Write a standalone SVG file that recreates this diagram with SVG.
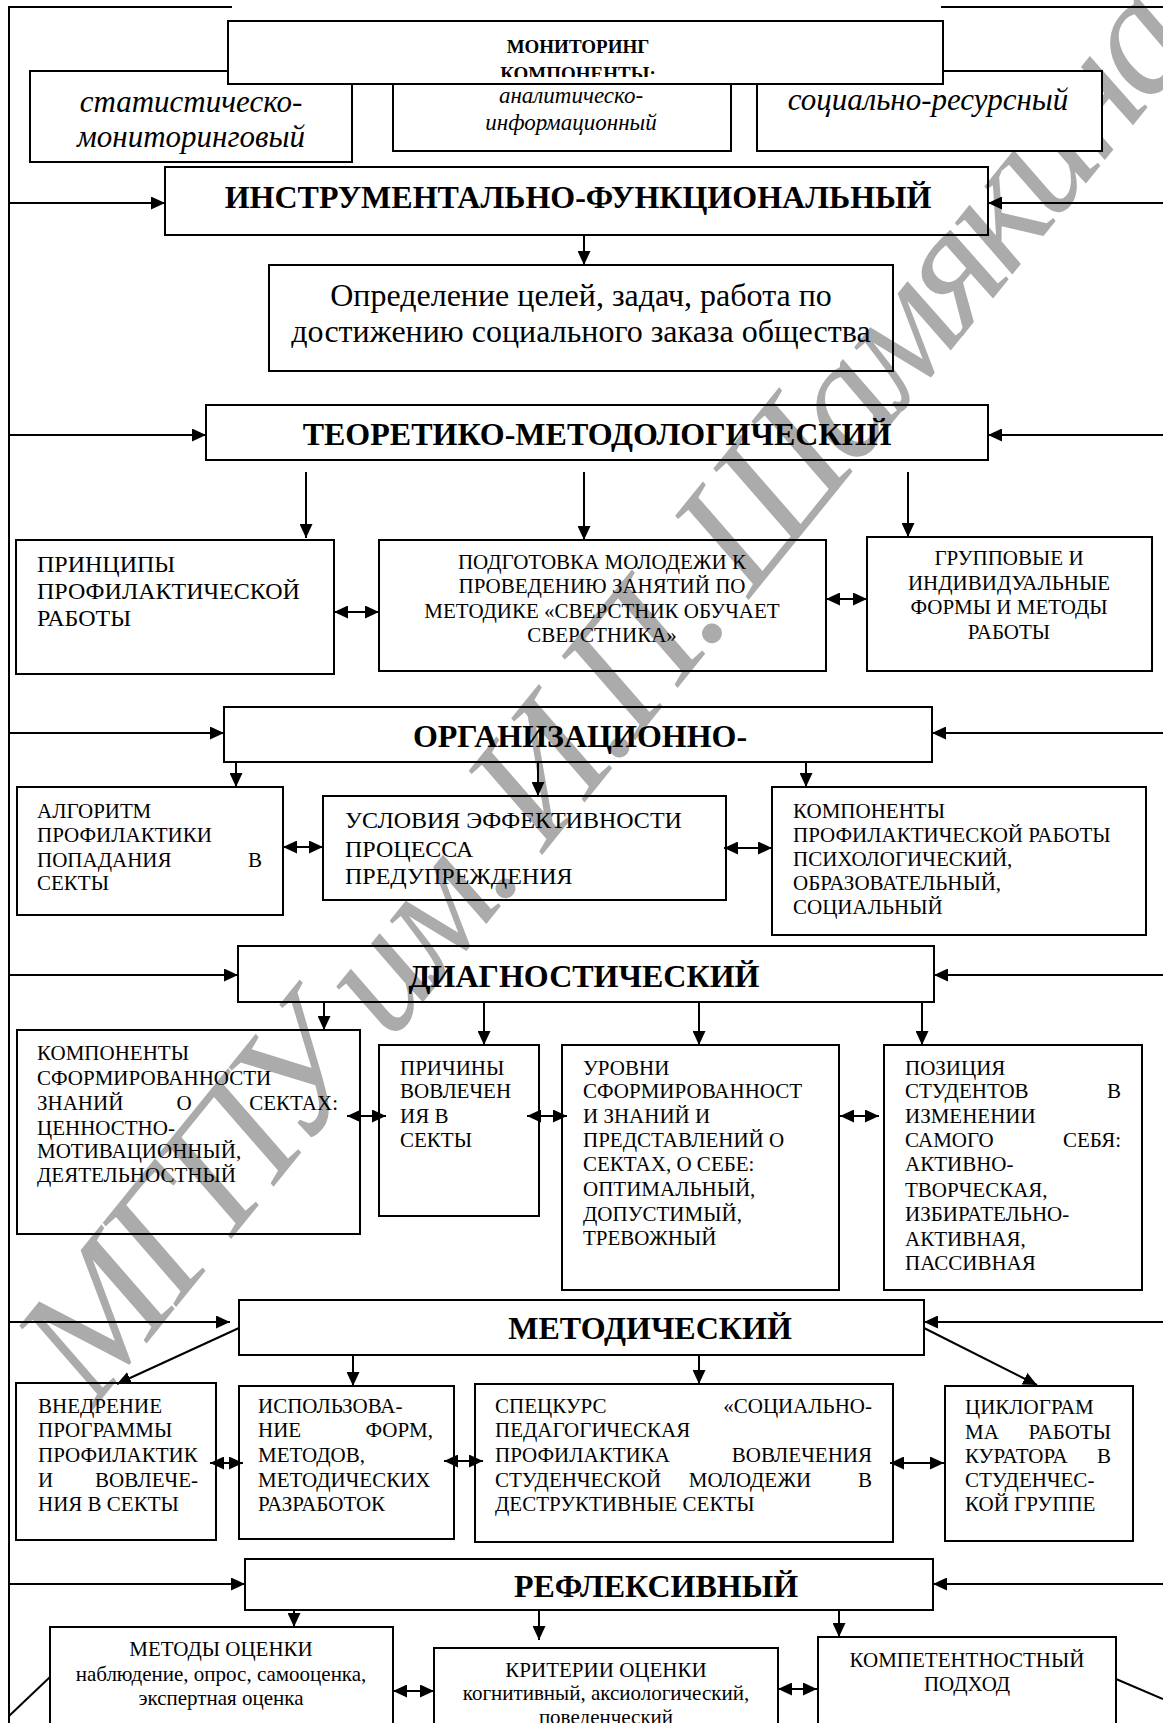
<svg xmlns="http://www.w3.org/2000/svg" width="1163" height="1723" viewBox="0 0 1163 1723">
<style>
text{font-family:"Liberation Serif","Times New Roman",serif;fill:#000}
.t{font-size:21px}
.t24{font-size:24px}
.c{text-anchor:middle}
.e{text-anchor:end}
.h{font-size:32px;font-weight:bold;text-anchor:middle}
.m{font-size:19px;font-weight:bold;text-anchor:middle}
.i31{font-size:31px;font-style:italic;text-anchor:middle}
.i23{font-size:23px;font-style:italic;text-anchor:middle}
.box{fill:none;stroke:#000;stroke-width:2}
.wbox{fill:#fff;stroke:#000;stroke-width:2}
.ln{fill:none;stroke:#000;stroke-width:2}
.ar{fill:none;stroke:#000;stroke-width:2;marker-end:url(#ah)}
.da{fill:none;stroke:#000;stroke-width:2;marker-start:url(#ah);marker-end:url(#ah)}
.wm{font-size:168px;font-style:italic;fill:#ababab;text-anchor:middle}
</style>
<defs>
<marker id="ah" viewBox="0 0 10 10" refX="10" refY="5" markerWidth="14" markerHeight="13" markerUnits="userSpaceOnUse" preserveAspectRatio="none" orient="auto-start-reverse">
<path d="M0,0 L10,5 L0,10 z" fill="#000"/>
</marker>
<clipPath id="monclip"><rect x="228" y="21" width="715" height="56"/></clipPath>
</defs>
<rect x="0" y="0" width="1163" height="1723" fill="#fff"/>
<g id="watermark">
<text class="wm" x="605" y="745" transform="rotate(-51 605 690)" textLength="1760" lengthAdjust="spacing">МГПУ им. И.П. Шамякина</text>
</g>
<g id="connectors">
<path class="ln" d="M232,7 H9 V1723"/>
<line class="ln" x1="941" y1="7" x2="1163" y2="7"/>
<line class="ar" x1="9" y1="203" x2="165" y2="203"/>
<line class="ar" x1="1163" y1="203" x2="988" y2="203"/>
<line class="ar" x1="584" y1="235" x2="584" y2="265"/>
<line class="ar" x1="9" y1="435" x2="206" y2="435"/>
<line class="ar" x1="1163" y1="435" x2="988" y2="435"/>
<line class="ar" x1="306" y1="472" x2="306" y2="538"/>
<line class="ar" x1="584" y1="472" x2="584" y2="540"/>
<line class="ar" x1="908" y1="472" x2="908" y2="537"/>
<line class="da" x1="334" y1="612" x2="379" y2="612"/>
<line class="da" x1="826" y1="599" x2="867" y2="599"/>
<line class="ar" x1="9" y1="733" x2="224" y2="733"/>
<line class="ar" x1="1163" y1="733" x2="932" y2="733"/>
<line class="ar" x1="236" y1="762" x2="236" y2="787"/>
<line class="ar" x1="538" y1="762" x2="538" y2="796"/>
<line class="ar" x1="806" y1="762" x2="806" y2="787"/>
<line class="da" x1="283" y1="847" x2="323" y2="847"/>
<line class="da" x1="724" y1="848" x2="772" y2="848"/>
<line class="ar" x1="9" y1="975" x2="238" y2="975"/>
<line class="ar" x1="1163" y1="975" x2="934" y2="975"/>
<line class="ar" x1="324" y1="1002" x2="324" y2="1030"/>
<line class="ar" x1="484" y1="1002" x2="484" y2="1045"/>
<line class="ar" x1="699" y1="1002" x2="699" y2="1045"/>
<line class="ar" x1="922" y1="1002" x2="922" y2="1045"/>
<line class="da" x1="347" y1="1116" x2="386" y2="1116"/>
<line class="da" x1="527" y1="1116" x2="567" y2="1116"/>
<line class="da" x1="840" y1="1116" x2="879" y2="1116"/>
<line class="ar" x1="9" y1="1322" x2="230" y2="1322"/>
<line class="ar" x1="1163" y1="1322" x2="924" y2="1322"/>
<line class="ar" x1="239" y1="1328" x2="117" y2="1384"/>
<line class="ar" x1="353" y1="1355" x2="353" y2="1386"/>
<line class="ar" x1="699" y1="1355" x2="699" y2="1384"/>
<line class="ar" x1="924" y1="1328" x2="1037" y2="1385"/>
<line class="da" x1="210" y1="1463" x2="243" y2="1463"/>
<line class="da" x1="444" y1="1461" x2="483" y2="1461"/>
<line class="da" x1="890" y1="1463" x2="944" y2="1463"/>
<line class="ar" x1="9" y1="1584" x2="245" y2="1584"/>
<line class="ar" x1="1163" y1="1584" x2="933" y2="1584"/>
<line class="ar" x1="294" y1="1610" x2="294" y2="1627"/>
<line class="ar" x1="539" y1="1610" x2="539" y2="1640"/>
<line class="ar" x1="839" y1="1610" x2="839" y2="1637"/>
<line class="da" x1="393" y1="1691" x2="434" y2="1691"/>
<line class="da" x1="778" y1="1689" x2="817" y2="1689"/>
<line class="ln" x1="9" y1="1716" x2="50" y2="1677"/>
<line class="ln" x1="1116" y1="1679" x2="1163" y2="1699"/>
</g>
<g id="n-stat">
<rect class="wbox" x="30" y="71" width="322" height="91"/>
<text class="i31" x="191" y="112">статистическо-</text>
<text class="i31" x="191" y="147">мониторинговый</text>
</g>
<g id="n-anal">
<rect class="wbox" x="393" y="78" width="338" height="73"/>
<text class="i23" x="571" y="103">аналитическо-</text>
<text class="i23" x="571" y="130">информационный</text>
</g>
<g id="n-soc">
<rect class="wbox" x="757" y="71" width="345" height="80"/>
<text class="i31" x="928" y="110">социально-ресурсный</text>
</g>
<g id="n-monitoring">
<rect class="wbox" x="228" y="21" width="715" height="63"/>
<g clip-path="url(#monclip)">
<text class="m" x="578" y="53">МОНИТОРИНГ</text>
<text class="m" x="578" y="80">КОМПОНЕНТЫ:</text>
</g>
</g>
<g id="n-instr">
<rect class="box" x="165" y="167" width="823" height="68"/>
<text class="h" x="578" y="208">ИНСТРУМЕНТАЛЬНО-ФУНКЦИОНАЛЬНЫЙ</text>
</g>
<g id="n-opred">
<rect class="box" x="269" y="265" width="624" height="106"/>
<text class="c" style="font-size:32px" x="581" y="306">Определение целей, задач, работа по</text>
<text class="c" style="font-size:32px" x="581" y="342">достижению социального заказа общества</text>
</g>
<g id="n-teor">
<rect class="box" x="206" y="405" width="782" height="55"/>
<text class="h" x="597" y="445">ТЕОРЕТИКО-МЕТОДОЛОГИЧЕСКИЙ</text>
</g>
<g id="n-princ">
<rect class="box" x="16" y="540" width="318" height="134"/>
<text class="t24" x="37" y="572">ПРИНЦИПЫ</text>
<text class="t24" x="37" y="599">ПРОФИЛАКТИЧЕСКОЙ</text>
<text class="t24" x="37" y="626">РАБОТЫ</text>
</g>
<g id="n-podg">
<rect class="box" x="379" y="540" width="447" height="131"/>
<text class="t c" x="602" y="569">ПОДГОТОВКА МОЛОДЕЖИ К</text>
<text class="t c" x="602" y="593">ПРОВЕДЕНИЮ ЗАНЯТИЙ ПО</text>
<text class="t c" x="602" y="618">МЕТОДИКЕ «СВЕРСТНИК ОБУЧАЕТ</text>
<text class="t c" x="602" y="642">СВЕРСТНИКА»</text>
</g>
<g id="n-grup">
<rect class="box" x="867" y="537" width="285" height="134"/>
<text class="t c" x="1009" y="565">ГРУППОВЫЕ И</text>
<text class="t c" x="1009" y="590">ИНДИВИДУАЛЬНЫЕ</text>
<text class="t c" x="1009" y="614">ФОРМЫ И МЕТОДЫ</text>
<text class="t c" x="1009" y="639">РАБОТЫ</text>
</g>
<g id="n-org">
<rect class="box" x="224" y="707" width="708" height="55"/>
<text class="h" x="580" y="747">ОРГАНИЗАЦИОННО-</text>
</g>
<g id="n-alg">
<rect class="box" x="17" y="787" width="266" height="128"/>
<text class="t" x="37" y="818">АЛГОРИТМ</text>
<text class="t" x="37" y="842">ПРОФИЛАКТИКИ</text>
<text class="t" x="37" y="867">ПОПАДАНИЯ</text>
<text class="t e" x="262" y="867">В</text>
<text class="t" x="37" y="890">СЕКТЫ</text>
</g>
<g id="n-usl">
<rect class="box" x="323" y="796" width="403" height="104"/>
<text class="t24" x="345" y="828">УСЛОВИЯ ЭФФЕКТИВНОСТИ</text>
<text class="t24" x="345" y="857">ПРОЦЕССА</text>
<text class="t24" x="345" y="884">ПРЕДУПРЕЖДЕНИЯ</text>
</g>
<g id="n-comp1">
<rect class="box" x="772" y="787" width="374" height="148"/>
<text class="t" x="793" y="818">КОМПОНЕНТЫ</text>
<text class="t" x="793" y="842">ПРОФИЛАКТИЧЕСКОЙ РАБОТЫ</text>
<text class="t" x="793" y="866">ПСИХОЛОГИЧЕСКИЙ,</text>
<text class="t" x="793" y="890">ОБРАЗОВАТЕЛЬНЫЙ,</text>
<text class="t" x="793" y="914">СОЦИАЛЬНЫЙ</text>
</g>
<g id="n-diag">
<rect class="box" x="238" y="946" width="696" height="56"/>
<text class="h" x="584" y="987">ДИАГНОСТИЧЕСКИЙ</text>
</g>
<g id="n-comp2">
<rect class="box" x="17" y="1030" width="343" height="204"/>
<text class="t" x="37" y="1060">КОМПОНЕНТЫ</text>
<text class="t" x="37" y="1085">СФОРМИРОВАННОСТИ</text>
<text class="t" x="37" y="1110">ЗНАНИЙ</text>
<text class="t c" x="184" y="1110">О</text>
<text class="t e" x="338" y="1110">СЕКТАХ:</text>
<text class="t" x="37" y="1135">ЦЕННОСТНО-</text>
<text class="t" x="37" y="1158">МОТИВАЦИОННЫЙ,</text>
<text class="t" x="37" y="1182">ДЕЯТЕЛЬНОСТНЫЙ</text>
</g>
<g id="n-prich">
<rect class="box" x="379" y="1045" width="160" height="171"/>
<text class="t" x="400" y="1075">ПРИЧИНЫ</text>
<text class="t" x="400" y="1098">ВОВЛЕЧЕН</text>
<text class="t" x="400" y="1123">ИЯ В</text>
<text class="t" x="400" y="1147">СЕКТЫ</text>
</g>
<g id="n-urov">
<rect class="box" x="562" y="1045" width="277" height="245"/>
<text class="t" x="583" y="1075">УРОВНИ</text>
<text class="t" x="583" y="1098">СФОРМИРОВАННОСТ</text>
<text class="t" x="583" y="1123">И ЗНАНИЙ И</text>
<text class="t" x="583" y="1147">ПРЕДСТАВЛЕНИЙ О</text>
<text class="t" x="583" y="1171">СЕКТАХ, О СЕБЕ:</text>
<text class="t" x="583" y="1196">ОПТИМАЛЬНЫЙ,</text>
<text class="t" x="583" y="1221">ДОПУСТИМЫЙ,</text>
<text class="t" x="583" y="1245">ТРЕВОЖНЫЙ</text>
</g>
<g id="n-pozic">
<rect class="box" x="884" y="1045" width="258" height="245"/>
<text class="t" x="905" y="1075">ПОЗИЦИЯ</text>
<text class="t" x="905" y="1098">СТУДЕНТОВ</text>
<text class="t e" x="1121" y="1098">В</text>
<text class="t" x="905" y="1123">ИЗМЕНЕНИИ</text>
<text class="t" x="905" y="1147">САМОГО</text>
<text class="t e" x="1121" y="1147">СЕБЯ:</text>
<text class="t" x="905" y="1171">АКТИВНО-</text>
<text class="t" x="905" y="1197">ТВОРЧЕСКАЯ,</text>
<text class="t" x="905" y="1221">ИЗБИРАТЕЛЬНО-</text>
<text class="t" x="905" y="1246">АКТИВНАЯ,</text>
<text class="t" x="905" y="1270">ПАССИВНАЯ</text>
</g>
<g id="n-metod">
<rect class="box" x="239" y="1300" width="685" height="55"/>
<text class="h" x="650" y="1339">МЕТОДИЧЕСКИЙ</text>
</g>
<g id="n-vnedr">
<rect class="box" x="16" y="1383" width="200" height="157"/>
<text class="t" x="38" y="1413">ВНЕДРЕНИЕ</text>
<text class="t" x="38" y="1437">ПРОГРАММЫ</text>
<text class="t" x="38" y="1462">ПРОФИЛАКТИК</text>
<text class="t" x="38" y="1487">И</text>
<text class="t e" x="198" y="1487">ВОВЛЕЧЕ-</text>
<text class="t" x="38" y="1511">НИЯ В СЕКТЫ</text>
</g>
<g id="n-ispol">
<rect class="box" x="239" y="1386" width="215" height="153"/>
<text class="t" x="258" y="1413">ИСПОЛЬЗОВА-</text>
<text class="t" x="258" y="1437">НИЕ</text>
<text class="t e" x="433" y="1437">ФОРМ,</text>
<text class="t" x="258" y="1462">МЕТОДОВ,</text>
<text class="t" x="258" y="1487">МЕТОДИЧЕСКИХ</text>
<text class="t" x="258" y="1511">РАЗРАБОТОК</text>
</g>
<g id="n-spec">
<rect class="box" x="475" y="1384" width="418" height="158"/>
<text class="t" x="495" y="1413">СПЕЦКУРС</text>
<text class="t e" x="872" y="1413">«СОЦИАЛЬНО-</text>
<text class="t" x="495" y="1437">ПЕДАГОГИЧЕСКАЯ</text>
<text class="t" x="495" y="1462">ПРОФИЛАКТИКА</text>
<text class="t e" x="872" y="1462">ВОВЛЕЧЕНИЯ</text>
<text class="t" x="495" y="1487">СТУДЕНЧЕСКОЙ</text>
<text class="t c" x="750" y="1487">МОЛОДЕЖИ</text>
<text class="t e" x="872" y="1487">В</text>
<text class="t" x="495" y="1511">ДЕСТРУКТИВНЫЕ СЕКТЫ</text>
</g>
<g id="n-cikl">
<rect class="box" x="945" y="1386" width="188" height="155"/>
<text class="t" x="965" y="1414">ЦИКЛОГРАМ</text>
<text class="t" x="965" y="1439">МА</text>
<text class="t e" x="1111" y="1439">РАБОТЫ</text>
<text class="t" x="965" y="1463">КУРАТОРА</text>
<text class="t e" x="1111" y="1463">В</text>
<text class="t" x="965" y="1487">СТУДЕНЧЕС-</text>
<text class="t" x="965" y="1511">КОЙ ГРУППЕ</text>
</g>
<g id="n-refl">
<rect class="box" x="245" y="1559" width="688" height="51"/>
<text class="h" x="656" y="1597">РЕФЛЕКСИВНЫЙ</text>
</g>
<g id="n-metody">
<rect class="box" x="50" y="1627" width="343" height="120"/>
<text class="t c" x="221" y="1656">МЕТОДЫ ОЦЕНКИ</text>
<text class="t c" x="221" y="1681">наблюдение, опрос, самооценка,</text>
<text class="t c" x="221" y="1705">экспертная оценка</text>
</g>
<g id="n-krit">
<rect class="box" x="434" y="1648" width="344" height="100"/>
<text class="t c" x="606" y="1677">КРИТЕРИИ ОЦЕНКИ</text>
<text class="t c" x="606" y="1700">когнитивный, аксиологический,</text>
<text class="t c" x="606" y="1724">поведенческий</text>
</g>
<g id="n-kompet">
<rect class="box" x="818" y="1637" width="298" height="110"/>
<text class="t c" x="967" y="1667">КОМПЕТЕНТНОСТНЫЙ</text>
<text class="t c" x="967" y="1691">ПОДХОД</text>
</g>
</svg>
